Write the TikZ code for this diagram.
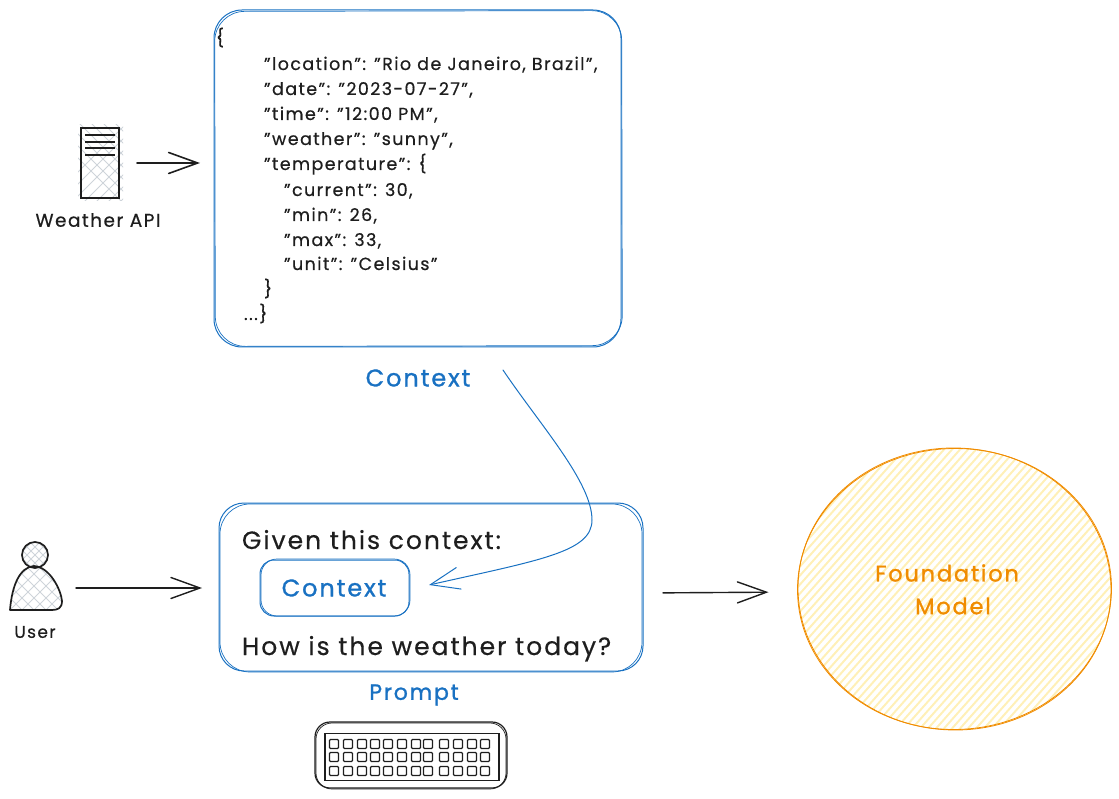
\documentclass[tikz,border=0pt]{standalone}
\usepackage{fontspec}
\setmainfont[LetterSpace=8]{Poppins}
\usetikzlibrary{arrows.meta,shapes.geometric,calc}
\definecolor{ink}{HTML}{1E1E1E}
\definecolor{sblue}{HTML}{1971C2}
\definecolor{sorange}{HTML}{F08C00}
\definecolor{hyellow}{HTML}{FFF0B8}
\definecolor{hgray}{HTML}{CED4DA}
\newcommand{\bolder}{\addfontfeature{FakeBold=1.2}}
\newcommand{\bolderink}{\addfontfeature{FakeBold=0.5}}
\tikzset{
  x=1pt,y=-1pt,
  txt/.style={inner sep=0,outer sep=0,text=ink},
  bluetxt/.style={inner sep=0,outer sep=0,text=sblue},
  orangetxt/.style={inner sep=0,outer sep=0,text=sorange},
  codeline/.style={inner sep=0,outer sep=0,text=ink,anchor=base west,font=\fontsize{17.5}{20}\selectfont\bolderink},
  bluebox/.style={draw=sblue,line width=1pt,rounded corners=#1,inner sep=0,outer sep=0},
  bluestroke/.style={draw=sblue,line width=.7pt,rounded corners=#1},
  inkshape/.style={draw=ink,line width=1.7pt,inner sep=0,outer sep=0},
  bararrow/.style={draw=ink,line width=1.6pt,line cap=round,-{Straight Barb[length=29pt,width=21pt,line cap=round]}},
  bluearrow/.style={draw=sblue,line width=1pt,line cap=round,-{Straight Barb[length=29pt,width=22pt,line cap=round]}},
  hatchgray/.style={draw=hgray,line width=1pt},
  hatchyellow/.style={draw=hyellow,line width=2pt},
  orangeline/.style={draw=sorange,line width=.8pt},
  keycap/.style={draw=ink,line width=1.1pt,rounded corners=1pt},
}
\begin{document}
\begin{tikzpicture}
\useasboundingbox (0,0) rectangle (1119,799);

% --- Weather API server
\begin{scope}
  \clip (78,125) rectangle (123,201);
  \foreach \k in {-20,-8,...,160}{
    \draw[hatchgray] (60+\k,120) -- (60+\k+90,210);
    \draw[hatchgray] (60+\k,210) -- (60+\k+90,120);
  }
\end{scope}
\node[inkshape,minimum width=38,minimum height=70] (api) at (100,163) {};
\foreach \yy in {135,142,148,155}{\draw[ink,line width=1.5pt] (85,\yy) -- (115,\yy);}
\node[txt,font=\fontsize{18.5}{20}\selectfont\bolderink] (apilabel) at (98,220) {Weather API};

% --- Context box
\node[bluebox=28pt,minimum width=407,minimum height=337] (ctx) at (417.5,178.5) {};
\draw[bluestroke=30pt,rotate around={0.12:(417,178)}] (215,11) rectangle (622,346);
\foreach \txt/\xx/\yy in {
  {\{}/216/44,
  {"location": "Rio de Janeiro, Brazil",}/264/70,
  {"date": "2023-07-27",}/264/95,
  {"time": "12:00 PM",}/264/120,
  {"weather": "sunny",}/264/145,
  {"temperature": \{}/264/170,
  {"current": 30,}/284/196,
  {"min": 26,}/284/221,
  {"max": 33,}/284/246,
  {"unit": "Celsius"}/284/270,
  {\}}/264/295,
  {...\}}/244/320}{
  \node[codeline] at (\xx,\yy) {\txt};
}
\node[bluetxt,font=\fontsize{24}{26}\selectfont\bolder] (ctxlabel) at (418,378) {Context};

% --- User
\begin{scope}
  \clip (10,610) .. controls (12,585) and (20,567) .. (34,566)
  .. controls (50,567) and (61,590) .. (62,601) .. controls (62,608) and (58,610) .. (52,610) -- cycle;
  \foreach \k in {-60,-48,...,80}{
    \draw[hatchgray] (\k,540) -- (\k+80,620);
    \draw[hatchgray] (\k,620) -- (\k+80,540);
  }
\end{scope}
\begin{scope}
  \clip (35,555) circle [radius=13];
  \foreach \k in {-20,-12,...,60}{
    \draw[hatchgray] (\k,540) -- (\k+30,570);
    \draw[hatchgray] (\k,570) -- (\k+30,540);
  }
\end{scope}
\node[inkshape,circle,minimum size=26] (head) at (35,555) {};
\node[inner sep=0,outer sep=0,minimum width=52,minimum height=44] (user) at (36,588) {};
\draw[ink,line width=1.7pt,line join=round] (10,610) .. controls (12,585) and (20,567) .. (34,566)
  .. controls (50,567) and (61,590) .. (62,601) .. controls (62,608) and (58,610) .. (52,610) -- cycle;
\node[txt,font=\fontsize{17}{18}\selectfont\bolderink] (userlabel) at (35,632) {User};

% --- Prompt box
\node[bluebox=25pt,minimum width=424,minimum height=168] (prompt) at (431,587) {};
\draw[bluestroke=30pt] (220,504) rectangle (642,672);
\node[txt,anchor=base west,font=\fontsize{25}{28}\selectfont\bolderink] (given) at (242,549) {Given this context:};
\node[bluebox=14pt,minimum width=149,minimum height=56] (inner) at (334.5,588) {};
\draw[bluestroke=16pt] (261,559) rectangle (410,616);
\node[bluetxt,font=\fontsize{24}{26}\selectfont\bolder] (innerlabel) at (334,588) {Context};
\node[txt,anchor=base west,font=\fontsize{25}{28}\selectfont\bolderink] (how) at (242,655) {How is the weather today?};
\node[bluetxt,font=\fontsize{22}{26}\selectfont\bolder] (promptlabel) at (414,695) {Prompt};

% --- Keyboard
\node[inkshape,line width=1.2pt,rounded corners=15pt,minimum width=192,minimum height=66] (kbd) at (411,755) {};
\draw[ink,line width=.7pt,rounded corners=16pt] (316,723) rectangle (506,789);
\node[inkshape,line width=1.3pt,minimum width=174,minimum height=47] (kbdin) at (412,757) {};
\foreach \xx in {334,348,362,375,388,402,416,428,444,458,472,485}{
  \foreach \yy in {744,757,771}{
    \draw[keycap] (\xx-4.5,\yy-4.5) rectangle (\xx+4.5,\yy+4.5);
  }
}

% --- Foundation model
\begin{scope}
  \clip (954.5,589) ellipse [x radius=157,y radius=140.5];
  \foreach \k in {-200,-192,...,640}{
    \draw[hatchyellow] (700+\k,760) -- (700+\k+320,400);
  }
\end{scope}
\node[ellipse,inner sep=0,outer sep=0,minimum width=314,minimum height=281] (model) at (954.5,589) {};
\draw[orangeline,rotate around={1.5:(954.5,589)}] (954.5,589) ellipse [x radius=157,y radius=140.5];
\draw[orangeline,rotate around={-1.5:(954.5,589)}] (954.5,589) ellipse [x radius=156.5,y radius=141];
\node[orangetxt,font=\fontsize{22.5}{26}\selectfont\bolder] (f1) at (947,573) {Foundation};
\node[orangetxt,font=\fontsize{22.5}{26}\selectfont\bolder] (f2) at (953,606) {Model};

% --- Connectors
\draw[bararrow,shorten <=18pt,shorten >=14pt] (api.east) -- (api.east -| ctx.west);
\draw[bararrow,line width=1.4pt,shorten <=14pt,shorten >=17pt] (user.east) -- (user.east -| prompt.west);
\draw[bararrow,line width=1.4pt,shorten <=20pt,shorten >=29pt] ([yshift=-6pt]prompt.east) -- ([yshift=-3pt]model.west);
\draw[bluearrow] ([shift={(85,-8)}]ctxlabel.center) .. controls (540,425) and (592,482) .. (592,520)
  .. controls (592,552) and (540,560) .. ([shift={(20,-3)}]inner.east);
\end{tikzpicture}
\end{document}
